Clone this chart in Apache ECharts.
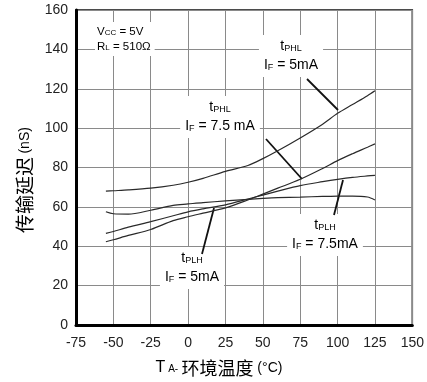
<!DOCTYPE html>
<html><head><meta charset="utf-8">
<script src="https://cdn.jsdelivr.net/npm/echarts@6/dist/echarts.min.js"></script>
<style>html,body{margin:0;padding:0;background:#fff}#c{width:427px;height:382px}</style>
</head><body><div id="c"></div>
<script>
// Data
const temps     = [-55, -50, -40, -25, -10, 0, 10, 25, 40, 50, 60, 75, 90, 100, 110, 120, 125];
const tPHL_5mA  = [68, 68.2, 68.6, 69.5, 71, 72.5, 74.5, 78, 81, 84.5, 88.5, 95, 102, 107.5, 112, 116.5, 119];
const tPHL_75mA = [42.3, 43.3, 45.5, 48.5, 53, 55, 56.8, 59.5, 63.5, 66.5, 69.5, 74, 79.5, 83.5, 87, 90.3, 92];
const tPLH_75mA = [46.5, 47.5, 49.7, 52.5, 55.5, 57.5, 59, 61, 64, 66, 68, 70.8, 72.8, 74, 75, 75.7, 76];
const tPLH_5mA  = [57.5, 56.5, 56.3, 58.3, 60.8, 61.5, 62.2, 63, 63.8, 64.3, 64.7, 65, 65.3, 65.5, 65.5, 65, 63.5];
const xTicks = [-75, -50, -25, 0, 25, 50, 75, 100, 125, 150];
const yTicks = [0, 20, 40, 60, 80, 100, 120, 140, 160];

const pairs = ys => temps.map((t, i) => [t, ys[i]]);
const FONT = 'Liberation Sans, Arial, sans-serif';
const CJK = '"Noto Sans CJK SC", sans-serif';

const lineSeries = (name, ys) => ({
  name, type: 'line', data: pairs(ys), smooth: 0.3, symbol: 'none',
  lineStyle: { color: '#2a2a2a', width: 1.2 }, z: 5
});

const rich = {
  t: { fontSize: 14, fontFamily: FONT, color: '#111' },
  s: { fontSize: 9, fontFamily: FONT, color: '#111', padding: [4, 0, 0, 0] },
  m: { fontSize: 14, fontFamily: FONT, color: '#111' }
};
const lbl = (x, y, text) => ({
  type: 'text', x, y, z: 3,
  style: { text, rich, textAlign: 'center', textVerticalAlign: 'middle',
    backgroundColor: '#fff', padding: [2, 5, 2, 5], lineHeight: 19 }
});
const ptr = (x1, y1, x2, y2) => ({
  type: 'line', z: 4, shape: { x1, y1, x2, y2 },
  style: { stroke: '#111', lineWidth: 1.8 }
});

const chart = echarts.init(document.getElementById('c'), null, { renderer: 'canvas' });
chart.setOption({
  animation: false,
  backgroundColor: '#fff',
  grid: { left: 76, right: 12, top: 10, bottom: 57, show: true, borderColor: '#111', borderWidth: 1.5, backgroundColor: 'transparent' },
  xAxis: {
    type: 'value', min: xTicks[0], max: xTicks[xTicks.length - 1], interval: 25,
    axisLine: { show: true, onZero: false, lineStyle: { color: '#000', width: 3 } },
    axisTick: { show: false },
    axisLabel: { margin: 11, fontSize: 14, fontFamily: FONT, color: '#222',
      customValues: xTicks },
    splitLine: { show: true, lineStyle: { color: '#8a8a8a', width: 1 } }
  },
  yAxis: {
    type: 'value', min: yTicks[0], max: yTicks[yTicks.length - 1], interval: 20,
    axisLine: { show: true, onZero: false, lineStyle: { color: '#000', width: 3 } },
    axisTick: { show: false },
    axisLabel: { margin: 8, fontSize: 14, fontFamily: FONT, color: '#222' },
    splitLine: { show: true, lineStyle: { color: '#8a8a8a', width: 1 } }
  },
  series: [
    lineSeries('tPHL IF=5mA', tPHL_5mA),
    lineSeries('tPHL IF=7.5mA', tPHL_75mA),
    lineSeries('tPLH IF=7.5mA', tPLH_75mA),
    lineSeries('tPLH IF=5mA', tPLH_5mA)
  ],
  graphic: [
    {
      type: 'text', x: 95, y: 22, z: 3,
      style: {
        text: '{m|V}{s|CC}{m| = 5V}\n{m|R}{s|L}{m| = 510Ω}',
        rich: {
          m: { fontSize: 11.5, fontFamily: FONT, color: '#111' },
          s: { fontSize: 8, fontFamily: FONT, color: '#111', padding: [3, 0, 0, 0] }
        },
        backgroundColor: '#fff', padding: [2, 4, 2, 2], lineHeight: 15
      }
    },
    lbl(291, 56, '{t|t}{s|PHL}\n{t|I}{s|F}{m| = 5mA}'),
    lbl(220, 117, '{t|t}{s|PHL}\n{t|I}{s|F}{m| = 7.5 mA}'),
    lbl(192, 268, '{t|t}{s|PLH}\n{t|I}{s|F}{m| = 5mA}'),
    lbl(325, 235, '{t|t}{s|PLH}\n{t|I}{s|F}{m| = 7.5mA}'),
    ptr(307, 79, 338, 110),
    ptr(266, 139, 302, 179),
    ptr(202, 254, 214, 208),
    ptr(334, 215, 343, 180),
    {
      type: 'text', x: 25, y: 180, rotation: Math.PI / 2, z: 3,
      style: {
        text: '{c|传输延迟} {n|(nS)}',
        rich: {
          c: { fontSize: 19, fontFamily: CJK, color: '#2c3560' },
          n: { fontSize: 14, fontFamily: FONT, color: '#333' }
        },
        textAlign: 'center', textVerticalAlign: 'middle'
      }
    },
    {
      type: 'text', x: 219, y: 368, z: 3,
      style: {
        text: '{t|T}{s| A-} {c|环境温度}{n| (°C)}',
        rich: {
          t: { fontSize: 16, fontFamily: FONT, color: '#111' },
          s: { fontSize: 10, fontFamily: FONT, color: '#111', padding: [3, 0, 0, 0] },
          c: { fontSize: 18, fontFamily: CJK, color: '#111' },
          n: { fontSize: 14, fontFamily: FONT, color: '#111' }
        },
        textAlign: 'center', textVerticalAlign: 'middle'
      }
    }
  ]
});
</script>
</body></html>
